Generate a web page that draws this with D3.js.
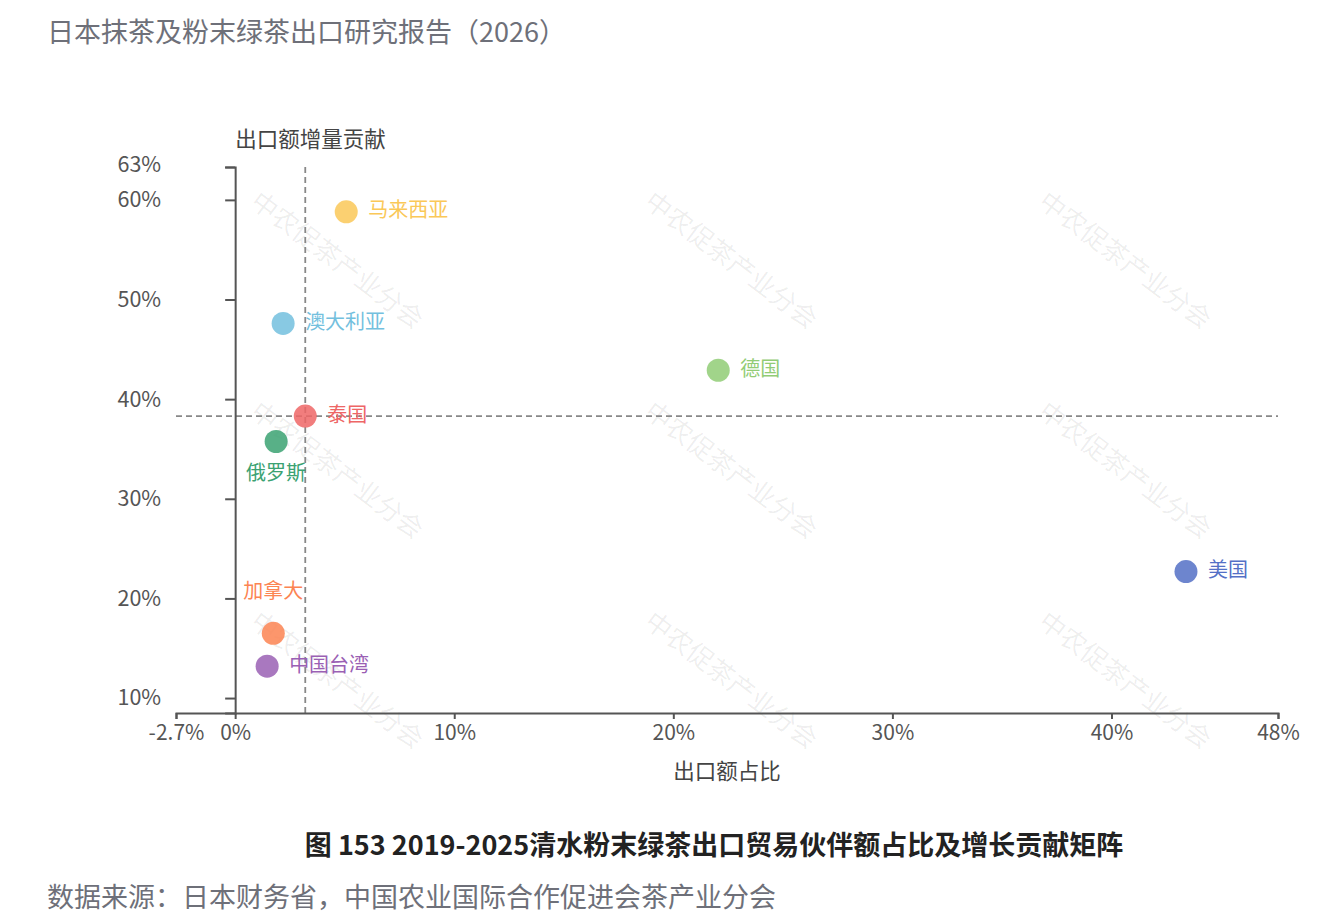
<!DOCTYPE html>
<html lang="zh">
  <head>
    <meta charset="utf-8" />
    <title>出口贸易伙伴矩阵</title>
    <script src="https://d3js.org/d3.v7.min.js"></script>
    <style type="text/css">
      body { margin: 0; background: #fff; }
      text { font-family: "Noto Sans CJK SC", "Noto Sans", sans-serif; }
    </style>
  </head>
  <body>
    <script type="text/javascript">
      const w = 1333;
      const h = 914;

      // data
      const partners = ['马来西亚', '澳大利亚', '德国', '泰国', '俄罗斯', '美国', '加拿大', '中国台湾'];
      const shareValues = [5.07, 2.19, 22.05, 3.2, 1.87, 43.4, 1.74, 1.46];       // 出口额占比 %
      const growthValues = [58.8, 47.6, 42.9, 38.3, 35.75, 22.7, 16.5, 13.2];     // 出口额增量贡献 %
      const pointColors = ['#fac858', '#73c0de', '#91cc75', '#ee6666', '#3ba272', '#5470c6', '#fc8452', '#9a60b4'];
      const labelPos = ['right', 'right', 'right', 'right', 'bottom', 'right', 'top', 'right'];
      const xTicks = [-2.7, 0, 10, 20, 30, 40, 47.6];
      const xTickLabels = ['-2.7%', '0%', '10%', '20%', '30%', '40%', '48%'];
      const yTicks = [10, 20, 30, 40, 50, 60, 63.3];
      const yTickLabels = ['10%', '20%', '30%', '40%', '50%', '60%', '63%'];
      const xRef = 3.2;
      const yRef = 38.3;

      const plotLeft = 176, plotRight = 1278, plotTop = 167, plotBottom = 713;

      const xScale = d3.scaleLinear().domain([-2.7, 47.6]).range([plotLeft, plotRight]);
      const yScale = d3.scaleLinear().domain([8.5, 63.3]).range([plotBottom, plotTop]);

      const svg = d3.select('body').append('svg').attr('width', w).attr('height', h);

      // watermark
      const wm = svg.append('g');
      [336, 730, 1124].forEach((cx) => {
        [262, 472, 682].forEach((cy) => {
          wm.append('text')
            .attr('transform', `translate(${cx},${cy}) rotate(37)`)
            .attr('text-anchor', 'middle')
            .attr('dominant-baseline', 'middle')
            .attr('font-size', '26px')
            .attr('fill', 'rgba(0,0,0,0.07)')
            .text('中农促茶产业分会');
        });
      });

      // title
      svg.append('text')
        .attr('x', 47).attr('y', 42)
        .attr('font-size', '27px')
        .attr('fill', '#6e7079')
        .text('日本抹茶及粉末绿茶出口研究报告（2026）');

      // reference lines
      svg.append('line')
        .attr('x1', xScale(xRef)).attr('x2', xScale(xRef))
        .attr('y1', plotTop).attr('y2', plotBottom)
        .attr('stroke', '#888').attr('stroke-width', 1.8)
        .attr('stroke-dasharray', '6,4');
      svg.append('line')
        .attr('x1', plotLeft).attr('x2', plotRight)
        .attr('y1', yScale(yRef)).attr('y2', yScale(yRef))
        .attr('stroke', '#888').attr('stroke-width', 1.8)
        .attr('stroke-dasharray', '6,4');

      // x axis
      const xAxis = d3.axisBottom(xScale)
        .tickValues(xTicks)
        .tickFormat((d, i) => xTickLabels[i])
        .tickSizeOuter(0)
        .tickSize(6)
        .tickPadding(6);
      const gx = svg.append('g').attr('transform', `translate(0,${plotBottom})`).call(xAxis);
      gx.select('.domain').attr('stroke', '#555').attr('stroke-width', 2);
      gx.selectAll('.tick line').attr('stroke', '#555').attr('stroke-width', 2);
      gx.selectAll('.tick text')
        .attr('font-size', '21px')
        .attr('fill', '#555')
        .style('font-family', '"Noto Sans CJK SC", sans-serif');

      // y axis at x = 0
      const yAxis = d3.axisLeft(yScale)
        .tickValues(yTicks)
        .tickFormat((d, i) => yTickLabels[i])
        .tickSizeOuter(0)
        .tickSize(10)
        .tickPadding(64);
      const gy = svg.append('g').attr('transform', `translate(${xScale(0)},0)`).call(yAxis);
      gy.select('.domain').attr('stroke', '#555').attr('stroke-width', 2);
      gy.selectAll('.tick line').attr('stroke', '#555').attr('stroke-width', 2);
      gy.selectAll('.tick text')
        .attr('font-size', '21.5px')
        .attr('fill', '#555')
        .style('font-family', '"Noto Sans CJK SC", sans-serif');
      gy.selectAll('.tick').filter((d) => d === 63.3).select('text').attr('dy', '0.2em');

      // axis names
      svg.append('text')
        .attr('x', xScale(0)).attr('y', 147)
        .attr('font-size', '21.5px')
        .attr('fill', '#444')
        .text('出口额增量贡献');
      svg.append('text')
        .attr('x', (plotLeft + plotRight) / 2).attr('y', 779)
        .attr('text-anchor', 'middle')
        .attr('font-size', '21.5px')
        .attr('fill', '#444')
        .text('出口额占比');

      // points
      const pts = svg.append('g').selectAll('g').data(partners).enter().append('g');
      pts.append('circle')
        .attr('cx', (d, i) => xScale(shareValues[i]))
        .attr('cy', (d, i) => yScale(growthValues[i]))
        .attr('r', 11.5)
        .attr('fill', (d, i) => pointColors[i])
        .attr('fill-opacity', 0.85);
      pts.append('text')
        .attr('x', (d, i) => {
          const x = xScale(shareValues[i]);
          return labelPos[i] === 'right' ? x + 22 : x;
        })
        .attr('y', (d, i) => {
          const y = yScale(growthValues[i]);
          if (labelPos[i] === 'bottom') return y + 33;
          if (labelPos[i] === 'top') return y - 41;
          return y;
        })
        .attr('text-anchor', (d, i) => (labelPos[i] === 'right' ? 'start' : 'middle'))
        .attr('dominant-baseline', 'middle')
        .attr('font-size', '20px')
        .attr('fill', (d, i) => pointColors[i])
        .text((d) => d);

      // caption
      svg.append('text')
        .attr('x', 714).attr('y', 855)
        .attr('text-anchor', 'middle')
        .attr('font-size', '27px')
        .attr('font-weight', 'bold')
        .attr('fill', '#222')
        .text('图 153 2019-2025清水粉末绿茶出口贸易伙伴额占比及增长贡献矩阵');

      svg.append('text')
        .attr('x', 47).attr('y', 907)
        .attr('font-size', '27px')
        .attr('fill', '#6e7079')
        .text('数据来源：日本财务省，中国农业国际合作促进会茶产业分会');
    </script>
  </body>
</html>
